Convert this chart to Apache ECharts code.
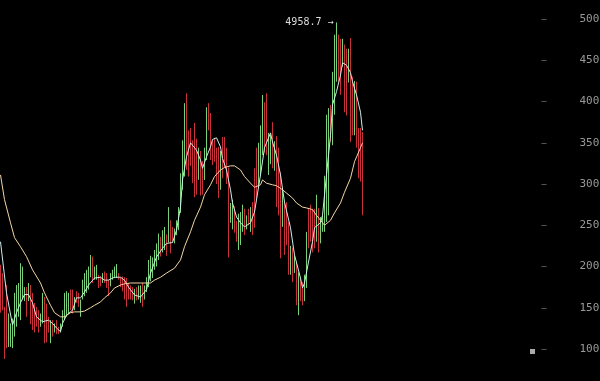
<!DOCTYPE html>
<html><head><meta charset="utf-8">
<script src="https://cdn.jsdelivr.net/npm/echarts@6/dist/echarts.min.js"></script>
<style>html,body{margin:0;padding:0;background:#000;}#c{width:600px;height:381px;}</style>
</head><body><div id="c"></div>
<script>
// Candle highs / lows, direction G = up, R = down
const highs = [
2020,1920,1510,1775,1430,1310,1370,1680,1775,1800, 2040,2000,1750,1750,1800,1775,1680,1560,1510,1470,
1430,1680,1630,1550,1390,1350,1350,1310,1350,1270, 1310,1470,1680,1700,1680,1720,1720,1630,1700,1680,
1600,1840,1920,1960,2000,2140,2120,2000,2020,1900, 1880,1920,1940,1920,1840,1920,1960,2000,2030,1920,
1870,1880,1870,1860,1800,1770,1750,1730,1750,1770, 1770,1800,1770,1870,2080,2130,2110,2200,2280,2400,
2360,2440,2480,2390,2720,2560,2480,2460,2560,2720, 3130,3530,3980,4100,3650,3680,3530,3740,3550,3440,
3400,3280,3440,3930,3980,3860,3530,3560,3440,3450, 3400,3570,3570,3440,3200,2770,2810,2730,2550,2640,
2660,2750,2700,2620,2700,2720,2780,3190,3440,3500, 3710,4080,3990,4100,3620,3600,3750,3520,3580,3440,
3140,2940,2780,2780,2540,2250,2230,2130,2050,1930, 1860,1810,1900,2420,2710,2750,2700,2700,2870,2710,
2600,2620,3100,3840,3920,3960,4360,4810,4958.7,4810, 4760,4760,4690,4640,4640,4770,4300,4250,4240,3680,
3680,3630];
const lows = [
1440,1470,880,1010,1025,1025,1010,1150,1270,1390, 1350,1600,1580,1390,1580,1300,1230,1200,1270,1200,
1270,1310,1070,1080,1200,1070,1150,1200,1180,1180, 1200,1270,1350,1390,1430,1470,1430,1470,1560,1510,
1390,1600,1640,1680,1720,1870,1800,1840,1840,1740, 1760,1800,1800,1740,1640,1760,1840,1860,1860,1840,
1750,1700,1600,1510,1600,1600,1590,1550,1590,1600, 1560,1510,1600,1690,1750,1820,1860,1960,2000,2080,
2120,2170,2200,2130,2290,2160,2300,2280,2380,2440, 2650,2930,3090,3170,3090,3220,3010,2840,2870,3050,
2860,2870,3050,3290,3650,3290,3230,3270,3000,2830, 2930,3070,3200,3000,2110,2530,2450,2410,2300,2200,
2260,2420,2380,2450,2500,2420,2380,2470,2830,2950, 3110,3350,3380,3350,3110,3240,3190,3160,2720,2620,
2100,2480,2140,2260,1900,1900,1810,1920,1530,1410, 1580,1530,1580,1740,2220,2300,2170,2220,2300,2170,
2280,2420,2420,2540,2620,3510,3470,3840,4240,4240, 4080,4420,3870,3830,4230,3510,3590,3590,3440,3070,
3030,2620];
const dirs = (
"RRRRGGGGGG" + "GGGRGRRRRR" + "GGRRRGRGRR" + "GGGGGRRGRR" + "GGGGGGRGGR" + "RGRRRGGGGR" +
"RRRRRRRGRG" + "GRGGGGGGGG" + "RGGRGRRGGG" + "GGGRRRRRRG" + "RRGGRRRRRR" + "GRRRRGGRRG" +
"GGRGRGRRRG" + "GGRRGGRGRR" + "RGRRRGRGRG" + "RRGGRRRRGR" + "GGGGGRGGGR" + "RGRRGRRGRR" + "RR").split("");

// Moving averages: [candle index, value]
const maShort = [[0,2300],[3,1680],[6,1290],[8,1440],[10,1560],[12,1660],[14,1660],[16,1560],[18,1390],[21,1330],
[24,1350],[26,1310],[28,1255],[30,1210],[31,1310],[33,1410],[36,1470],[38,1620],[40,1620],[42,1690],
[44,1775],[47,1860],[50,1870],[52,1835],[54,1835],[57,1870],[60,1870],[62,1835],[64,1750],[67,1655],
[70,1630],[71,1620],[73,1720],[75,1920],[78,2115],[81,2220],[83,2280],[86,2290],[88,2440],[90,2720],
[91,3050],[93,3330],[95,3500],[96,3510],[98,3410],[100,3290],[101,3190],[103,3330],[105,3450],[106,3540],
[108,3560],[110,3450],[111,3310],[113,3170],[115,2930],[116,2770],[118,2600],[120,2530],[122,2480],[125,2530],
[127,2660],[130,3110],[132,3440],[135,3620],[136,3510],[138,3350],[140,3110],[142,2780],[145,2470],[147,2140],
[150,1860],[151,1740],[152,1800],[154,2055],[156,2300],[157,2470],[160,2530],[161,2620],[163,3110],[165,3590],
[166,3960],[168,4120],[170,4320],[171,4470],[173,4440],[175,4350],[176,4240],[178,4080],[180,3870],[181,3650]];
const maLong = [[0,3110],[2,2810],[5,2530],[7,2350],[10,2240],[13,2120],[16,1960],[20,1800],[22,1680],[25,1530],
[27,1440],[30,1390],[32,1390],[35,1440],[37,1450],[40,1450],[42,1460],[45,1500],[47,1530],[50,1570],
[52,1620],[55,1680],[57,1740],[60,1775],[62,1790],[65,1800],[70,1800],[75,1800],[77,1835],[80,1870],
[83,1920],[87,1980],[90,2080],[92,2240],[95,2420],[97,2560],[100,2720],[102,2870],[105,2990],[107,3090],
[110,3170],[112,3200],[115,3220],[117,3220],[120,3170],[122,3090],[125,3010],[127,2960],[130,2990],[131,3050],
[133,3010],[136,2990],[138,2980],[141,2930],[143,2890],[146,2830],[148,2770],[151,2720],[153,2710],[156,2690],
[158,2620],[161,2530],[162,2500],[165,2560],[167,2650],[170,2770],[172,2900],[175,3070],[177,3270],[180,3440],[181,3500]];

const yTicks = [1000,1500,2000,2500,3000,3500,4000,4500,5000];
const totalSlots = 271;

const categories = Array.from({length: totalSlots}, (_, i) => String(i + 1));
const candles = highs.map((h, i) => dirs[i] === 'G' ? [lows[i], h, lows[i], h] : [h, lows[i], lows[i], h]);

const chart = echarts.init(document.getElementById('c'), null, {renderer: 'canvas'});
chart.setOption({
  backgroundColor: '#000',
  animation: false,
  grid: {left: -0.5, right: 58.5, top: 2.5, bottom: 15.5, outerBoundsMode: 'none', containLabel: false},
  xAxis: [
    {type: 'category', data: categories, boundaryGap: true,
      axisLine: {show: false, onZero: false}, axisTick: {show: false}, axisLabel: {show: false}, splitLine: {show: false}},
    {type: 'value', min: -0.5, max: totalSlots - 0.5, show: false, axisLine: {onZero: false}, splitLine: {show: false}}
  ],
  yAxis: {type: 'value', position: 'right', min: 800, max: 5200,
    splitLine: {show: false}, axisLine: {show: false, onZero: false},
    axisTick: {show: true, length: 5, customValues: yTicks, lineStyle: {color: '#555'}},
    axisLabel: {customValues: yTicks, margin: 38, color: '#999', fontFamily: 'DejaVu Sans Mono', fontSize: 11,
      formatter: v => String(v)}},
  graphic: [{type: 'rect', left: 530, top: 349, shape: {width: 5, height: 5}, style: {fill: '#aaa'}}],
  series: [
    {type: 'candlestick', data: candles, barWidth: 0.2,
      itemStyle: {color: '#78d078', color0: '#c8303a', borderColor: '#78d078', borderColor0: '#c8303a', borderWidth: 1},
      emphasis: {disabled: true},
      markPoint: {symbol: 'circle', symbolSize: 0,
        data: [{type: 'max', valueDim: 'highest'}],
        label: {show: true, position: 'left', distance: 3, color: '#ddd', fontFamily: 'DejaVu Sans Mono', fontSize: 10,
          formatter: p => p.value + ' \u2192'}}},
    {type: 'line', xAxisIndex: 1, data: maShort, showSymbol: false, symbol: 'none', lineStyle: {color: '#cdeeee', width: 1}, z: 3},
    {type: 'line', xAxisIndex: 1, data: maLong, showSymbol: false, symbol: 'none', lineStyle: {color: '#f3d6a4', width: 1}, z: 3}
  ]
});
</script></body></html>
